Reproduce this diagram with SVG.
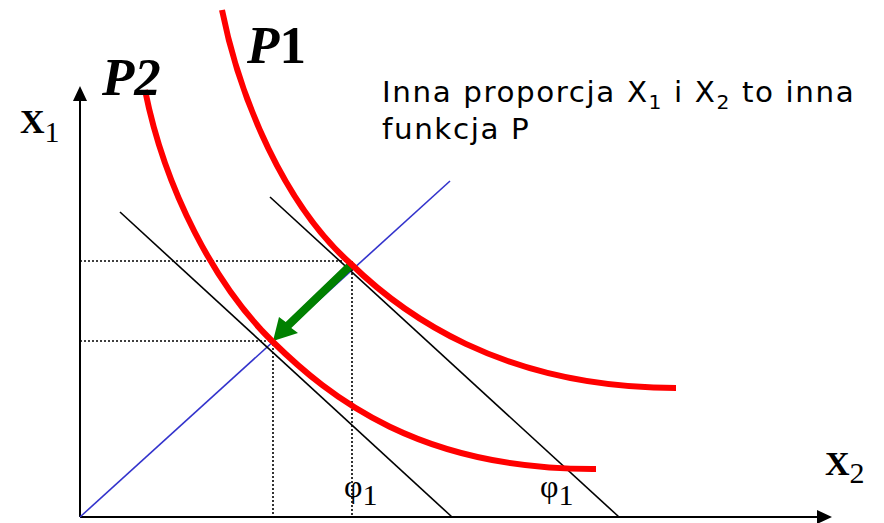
<svg xmlns="http://www.w3.org/2000/svg" width="884" height="523" viewBox="0 0 884 523">
<style>
.ax{stroke:#000;stroke-width:2;fill:none}
.bl{stroke:#000;stroke-width:1.6;fill:none}
.dot{stroke:#000;stroke-width:1.6;stroke-dasharray:2 2;fill:none}
.red{stroke:#ff0000;stroke-width:6;fill:none}
.serif{font-family:"Liberation Serif","Times New Roman",serif;fill:#000}
.sans{font-family:"DejaVu Sans",Verdana,sans-serif;fill:#000;font-size:27.5px;letter-spacing:1.5px}
</style>
<rect width="884" height="523" fill="#fff"/>
<g id="axes">
<line class="ax" x1="80" y1="517" x2="80" y2="98"/>
<polygon points="80,86 73,101 87,101" fill="#000"/>
<line class="ax" x1="80" y1="517" x2="818" y2="517"/>
<polygon points="832,517 817,510 817,524" fill="#000"/>
</g>
<g id="connectors">
<line x1="80" y1="517" x2="450" y2="181" stroke="#3333cc" stroke-width="1.6"/>
<line class="bl" x1="120" y1="212" x2="452" y2="517"/>
<line class="bl" x1="270" y1="197" x2="619" y2="517"/>
<polyline class="dot" points="80,261 352,261 352,517"/>
<polyline class="dot" points="80,341 273,341 273,517"/>
<polygon id="green-arrow" points="349.2,261.1 285.7,322.1 279,317 273,341 298,333 291.3,327.9 354.8,266.9" fill="#008000"/>
</g>
<g id="P1">
<path class="red" d="M222,10 C240,100 285,205 350,263 C400,312 500,388 676,388"/>
<text class="serif" x="247" y="63" font-size="53" font-weight="bold"><tspan font-style="italic">P</tspan>1</text>
</g>
<g id="P2">
<path class="red" d="M145,90 C165,190 215,285 272,341 C330,398 420,470 596,469"/>
<text class="serif" x="102" y="95" font-size="53" font-weight="bold" font-style="italic">P2</text>
</g>
<g id="labels">
<text class="serif" x="20" y="133" font-size="34"><tspan font-weight="bold">X</tspan><tspan font-size="30" dy="9">1</tspan></text>
<text class="serif" x="825" y="475" font-size="34"><tspan font-weight="bold">X</tspan><tspan font-size="30" dy="8">2</tspan></text>
<text class="serif" x="344" y="497" font-size="32">φ<tspan font-size="30" dy="8">1</tspan></text>
<text class="serif" x="540" y="497" font-size="32">φ<tspan font-size="30" dy="8">1</tspan></text>
<g transform="translate(382,0) scale(1.068,1)">
<text class="sans" x="0" y="102">Inna proporcja X<tspan font-size="19" dy="7">1</tspan><tspan dy="-7"> i X</tspan><tspan font-size="19" dy="7">2</tspan><tspan dy="-7"> to inna</tspan></text>
<text class="sans" x="0" y="139">funkcja P</text>
</g>
</g>
</svg>
